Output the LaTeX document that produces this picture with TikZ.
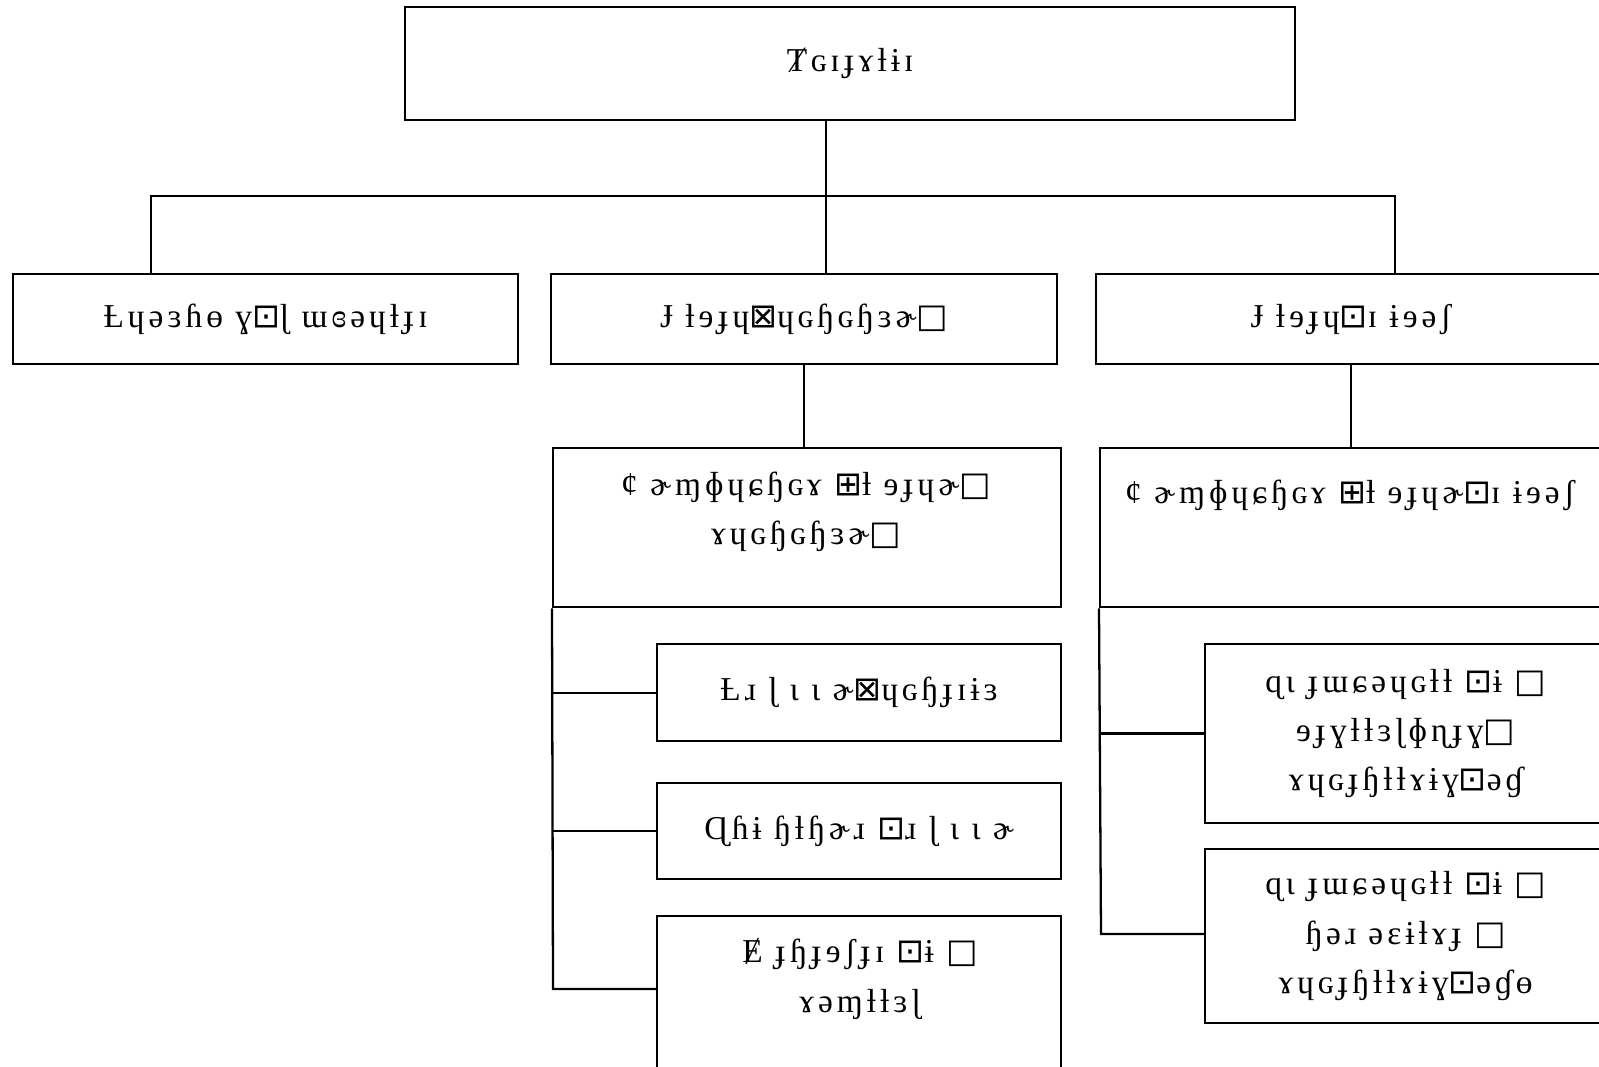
\documentclass[tikz,border=0pt]{standalone}
\usepackage{fontspec}
\setmainfont[LetterSpace=12]{Liberation Serif}
\newfontfamily\symfont{DejaVu Sans}
\usetikzlibrary{positioning}
\newcommand{\bxx}{{\symfont ⊠}}
\newcommand{\bxe}{{\symfont □}}
\newcommand{\bxp}{{\symfont ⊞}}
\newcommand{\bxd}{{\symfont ⊡}}
\tikzset{
  box/.style={draw, line width=1.3pt, inner sep=0pt, anchor=north west, font=\fontsize{19}{28}\selectfont, align=center},
  txt/.style={font=\fontsize{19}{28}\selectfont, align=center, inner sep=0pt},
  link/.style={line width=1.3pt}
}

\begin{document}
\begin{tikzpicture}[x=0.02cm, y=-0.02cm]
  \useasboundingbox (0,0) rectangle (1599,1066);
  % top level
  \node[box, minimum width=17.8cm, minimum height=2.26cm] (top) at (404,6) {Ⱦɢɪɟɤƚɨɪ};
  % second level
  \node[box, minimum width=10.1cm, minimum height=1.8cm] (a) at (12,273) {Ƚɥəɜɦɵ ɣ\bxd ɭ ɯɞəɥƚɟɪ};
  \node[box, minimum width=10.12cm, minimum height=1.8cm] (b) at (550,273) {Ɉ ƚɘɟɥ\bxx ɥɢɧɢɧɜɚ\bxe};
  \node[box, minimum width=10.2cm, minimum height=1.8cm] (c) at (1095,273) {Ɉ ƚɘɟɥ\bxd ɪ ɨɘəʃ};
  % third level
  \node[box, minimum width=10.16cm, minimum height=3.18cm] (b1) at (552,447) {};
  \node[txt] (b1t) at (806,512) {ȼ ɚɱɸɥɕɧɢɤ \bxp ƚ ɘɟɥɚ\bxe\\ɤɥɢɧɢɧɜɚ\bxe};
  \node[box, minimum width=10.12cm, minimum height=3.18cm] (c1) at (1099,447) {};
  \node[txt] (c1t) at (1350,495) {ȼ ɚɱɸɥɕɧɢɤ \bxp ƚ ɘɟɥɚ\bxd ɪ ɨɘəʃ};
  % leaves
  \node[box, minimum width=8.08cm, minimum height=1.94cm] (b2) at (656,643) {Ƚɹ ɭ ɩ ɩ ɚ\bxx ɥɢɧɟɪɨɜ};
  \node[box, minimum width=8.08cm, minimum height=1.92cm] (b3) at (656,782) {Ɋɦɨ ɧƚɧɚɹ \bxd ɹ ɭ ɩ ɩ ɚ};
  \node[box, minimum width=8.08cm, minimum height=3.4cm] (b4) at (656,915) {};
  \node[txt] (b4t) at (860,979) {Ɇ ɟɧɟɘʃɟɪ \bxd ɨ \bxe\\ɤəɱƚƚɜɭ};
  \node[box, minimum width=8.02cm, minimum height=3.58cm] (c2) at (1204,643) {ɋɩ ɟɯɕəɥɢƚƚ \bxd ɨ \bxe\\ɘɟɣƚƚɜɭɸɳɟɣ\bxe\\ɤɥɢɟɧƚƚɤɨɣ\bxd əɠ};
  \node[box, minimum width=8.02cm, minimum height=3.48cm] (c3) at (1204,848) {ɋɩ ɟɯɕəɥɢƚƚ \bxd ɨ \bxe\\ɧəɹ əɛɨƚɤɟ \bxe\\ɤɥɢɟɧƚƚɤɨɣ\bxd əɠɵ};
  % connectors
  \coordinate (jl) at (151,196);
  \coordinate (jm) at (826,196);
  \coordinate (jr) at (1395,196);
  \draw[link] (jm |- top.south) -- (jm |- b.north);
  \draw[link] (jl |- a.north) -- (jl) -- (jr) -- (jr |- c.north);
  \draw[link] (b.south) -- (b.south |- b1.north);
  \draw[link] (c.south) -- (c.south |- c1.north);
  \coordinate (bk) at (553,989);
  \draw[link] (b1.south west) -- (bk) -- (bk -| b4.west);
  \draw[link] (b2.west) -- (b2.west -| bk);
  \draw[link] (b3.west) -- (b3.west -| bk);
  \coordinate (ck) at (1101,934);
  \draw[link] (c1.south west) -- (ck) -- (ck -| c3.west);
  \draw[link] (c2.west) -- (c2.west -| ck);
\end{tikzpicture}
\end{document}
